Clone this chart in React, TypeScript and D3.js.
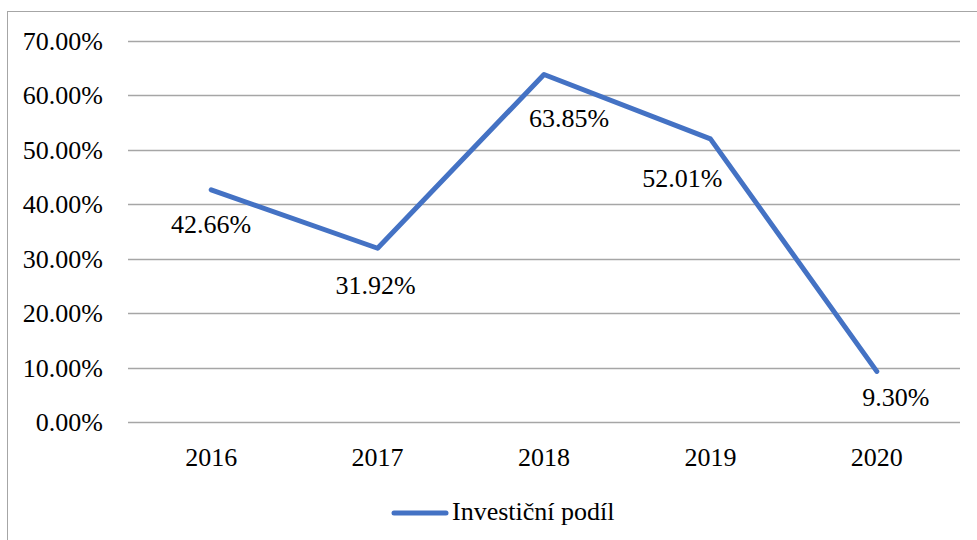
import React, { useEffect, useRef } from "react"
import * as d3 from "d3"

const years = ["2016", "2017", "2018", "2019", "2020"]
const podil = [42.66, 31.92, 63.85, 52.01, 9.3]
const yTicks = [0, 10, 20, 30, 40, 50, 60, 70]
const seriesName = "Investiční podíl"

const W = 977
const H = 540

// manual label nudges (dx, dy from the point), as placed in the original
const labelOffsets = [[0, 43], [-2, 46], [25, 53], [-28, 48], [19, 35]]

export default function App() {
  const ref = useRef<SVGSVGElement>(null)

  useEffect(() => {
    const svg = d3.select(ref.current)
    svg.selectAll("*").remove()
    const font = "Liberation Serif"
    const fs = 26

    // chart border
    svg.append("rect")
      .attr("x", 7.5).attr("y", 11.5)
      .attr("width", W + 20).attr("height", H + 20)
      .attr("fill", "white").attr("stroke", "#a6a6a6").attr("stroke-width", 1)

    const left = 128, right = 960, top = 41, bottom = 422

    const x = d3.scaleBand().domain(years).range([left, right])
    const y = d3.scaleLinear().domain([0, 70]).range([bottom, top])
    const cx = (i: number) => x(years[i])! + x.bandwidth() / 2

    // gridlines
    svg.append("g").selectAll("line").data(yTicks).enter().append("line")
      .attr("x1", left).attr("x2", right)
      .attr("y1", d => Math.round(y(d)) + 0.5).attr("y2", d => Math.round(y(d)) + 0.5)
      .attr("stroke", "#a6a6a6").attr("stroke-width", 1.5)

    // y tick labels
    svg.append("g").selectAll("text").data(yTicks).enter().append("text")
      .attr("x", 103).attr("y", d => y(d) + 9)
      .attr("text-anchor", "end")
      .attr("font-family", font).attr("font-size", fs).attr("fill", "#000")
      .text(d => d.toFixed(2) + "%")

    // x tick labels
    svg.append("g").selectAll("text").data(years).enter().append("text")
      .attr("x", (d, i) => cx(i)).attr("y", 466)
      .attr("text-anchor", "middle")
      .attr("font-family", font).attr("font-size", fs).attr("fill", "#000")
      .text(d => d)

    const line = d3.line<number>()
      .x((d, i) => cx(i))
      .y(d => y(d))

    svg.append("path").datum(podil)
      .attr("d", line)
      .attr("fill", "none").attr("stroke", "#4472c4")
      .attr("stroke-width", 5).attr("stroke-linejoin", "round").attr("stroke-linecap", "round")

    // data labels
    svg.append("g").selectAll("text").data(podil).enter().append("text")
      .attr("x", (d, i) => cx(i) + labelOffsets[i][0])
      .attr("y", (d, i) => y(d) + labelOffsets[i][1])
      .attr("text-anchor", "middle")
      .attr("font-family", font).attr("font-size", fs).attr("fill", "#000")
      .text(d => d.toFixed(2) + "%")

    // legend
    svg.append("line")
      .attr("x1", 394).attr("x2", 446).attr("y1", 513).attr("y2", 513)
      .attr("stroke", "#4472c4").attr("stroke-width", 5).attr("stroke-linecap", "round")
    svg.append("text")
      .attr("x", 452).attr("y", 520)
      .attr("font-family", font).attr("font-size", fs).attr("fill", "#000")
      .text(seriesName)
  }, [])

  return (
    <svg ref={ref} width={W} height={H}
      style={{ position: "absolute", left: 0, top: 0, background: "white", fontFamily: "Liberation Serif" }} />
  )
}
